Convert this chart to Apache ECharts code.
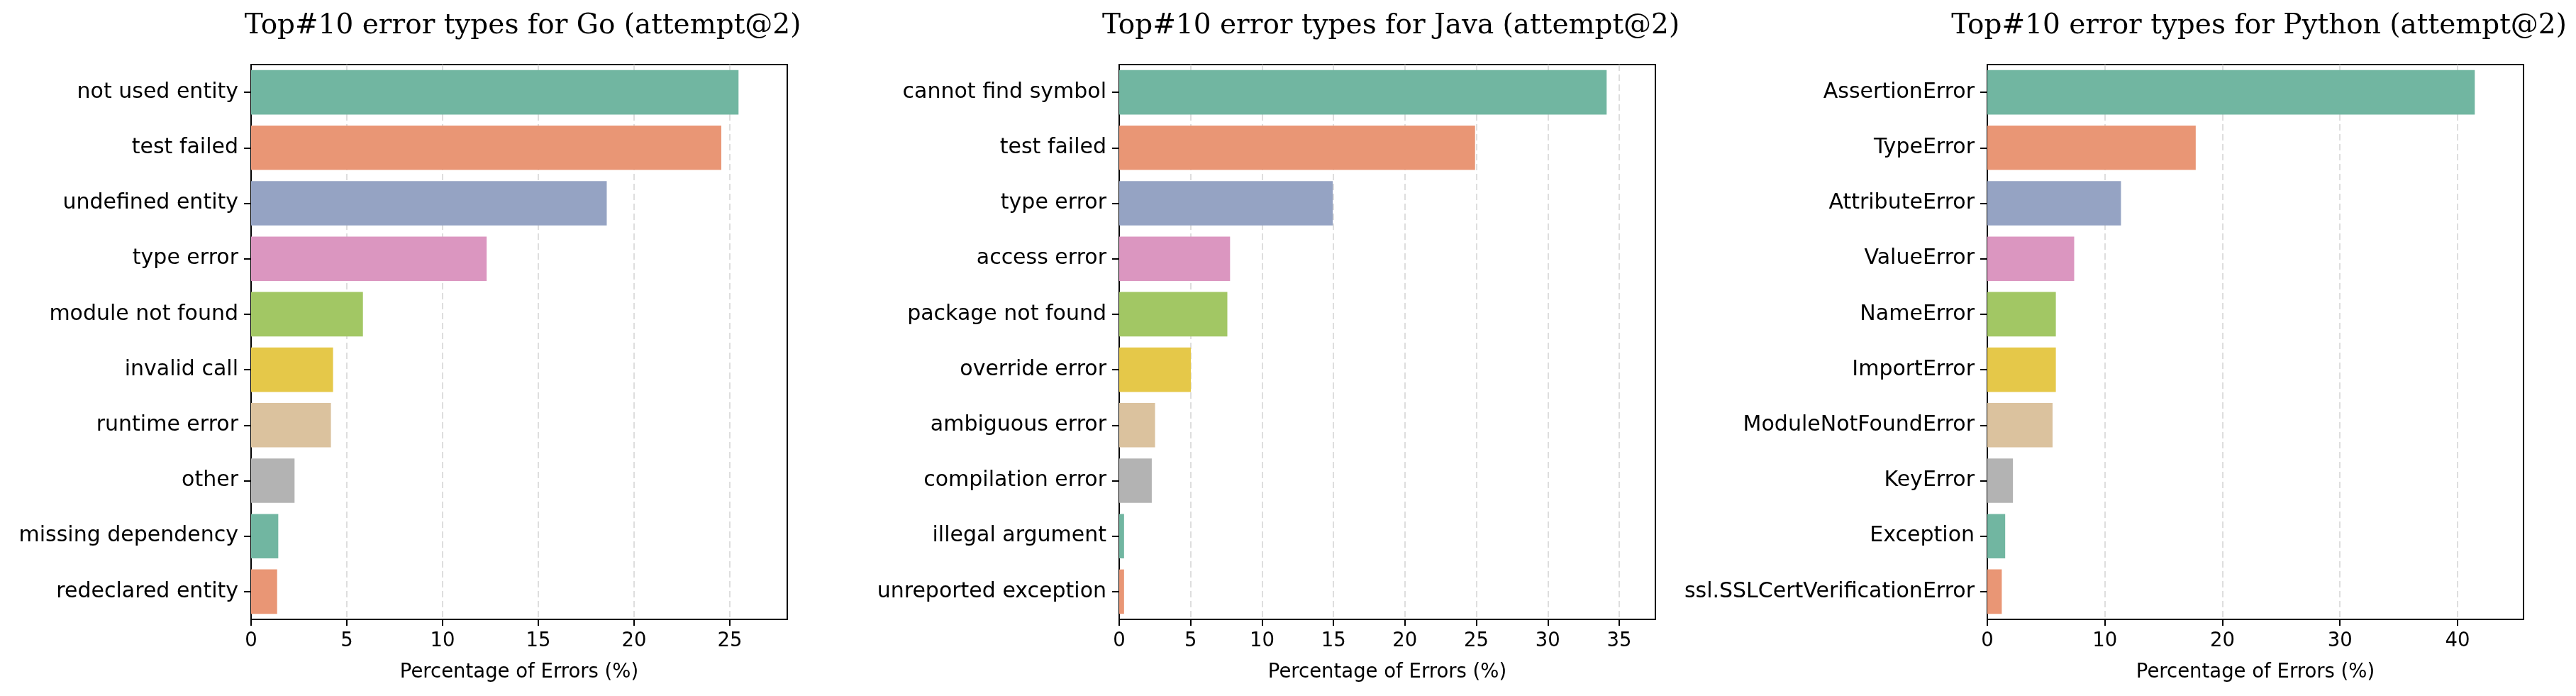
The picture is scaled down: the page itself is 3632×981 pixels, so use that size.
<!DOCTYPE html>
<html>
<head>
<meta charset="utf-8">
<script src="https://cdn.jsdelivr.net/npm/echarts@6/dist/echarts.min.js"></script>
<style>
html,body{margin:0;padding:0;background:#fff;}
#chart{width:3632px;height:981px;}
</style>
</head>
<body>
<div id="chart"></div>
<script>
const titles = [
  "Top#10 error types for Go (attempt@2)",
  "Top#10 error types for Java (attempt@2)",
  "Top#10 error types for Python (attempt@2)"
];
const goCategories = ["not used entity","test failed","undefined entity","type error","module not found","invalid call","runtime error","other","missing dependency","redeclared entity"];
const goValues = [25.45, 24.55, 18.57, 12.30, 5.84, 4.28, 4.17, 2.27, 1.42, 1.36];
const javaCategories = ["cannot find symbol","test failed","type error","access error","package not found","override error","ambiguous error","compilation error","illegal argument","unreported exception"];
const javaValues = [34.12, 24.91, 14.95, 7.76, 7.57, 5.02, 2.51, 2.28, 0.34, 0.34];
const pyCategories = ["AssertionError","TypeError","AttributeError","ValueError","NameError","ImportError","ModuleNotFoundError","KeyError","Exception","ssl.SSLCertVerificationError"];
const pyValues = [41.47, 17.73, 11.37, 7.39, 5.83, 5.83, 5.55, 2.18, 1.52, 1.23];
const xTickIntervals = [5, 5, 10];
const xAxisLabel = "Percentage of Errors (%)";
const palette = ["#71b6a1","#e99675","#95a3c3","#db96c0","#a2c764","#e5c849","#dbc29e","#b3b3b3","#71b6a1","#e99675"];

const panels = [
  {cats: goCategories, vals: goValues},
  {cats: javaCategories, vals: javaValues},
  {cats: pyCategories, vals: pyValues}
];
const gridLefts = [354, 1578, 2802];
const gridWidth = 756;
const gridTop = 91;
const gridHeight = 782;

const chart = echarts.init(document.getElementById('chart'), null, {renderer: 'canvas'});
const option = {
  backgroundColor: '#fff',
  animation: false,
  title: titles.map((t, i) => ({
    text: t,
    left: gridLefts[i] + gridWidth / 2,
    textAlign: 'center',
    top: 12,
    textStyle: {fontFamily: 'DejaVu Serif', fontSize: 39, fontWeight: 'normal', color: '#000'}
  })),
  grid: panels.map((p, i) => ({
    left: gridLefts[i], top: gridTop, width: gridWidth, height: gridHeight,
    show: true, borderColor: '#000', borderWidth: 2, backgroundColor: 'transparent'
  })),
  xAxis: panels.map((p, i) => ({
    type: 'value', gridIndex: i, min: 0, max: Math.max(...p.vals) * 1.1,
    interval: xTickIntervals[i],
    name: xAxisLabel, nameLocation: 'middle', nameGap: 61,
    nameTextStyle: {fontFamily: 'DejaVu Sans', fontSize: 27.5, color: '#000'},
    axisLine: {show: true, lineStyle: {color: '#000', width: 2}},
    axisTick: {show: true, length: 9, lineStyle: {color: '#000', width: 2}},
    axisLabel: {fontFamily: 'DejaVu Sans', fontSize: 27.5, color: '#000', margin: 17, showMaxLabel: false},
    splitLine: {show: true, showMinLine: false, showMaxLine: false, lineStyle: {color: '#d3d3d3', width: 1.5, type: [9, 5]}}
  })),
  yAxis: panels.map((p, i) => ({
    type: 'category', gridIndex: i, data: p.cats, inverse: true,
    axisLine: {show: true, lineStyle: {color: '#000', width: 2}},
    axisTick: {show: true, alignWithLabel: true, length: 10, lineStyle: {color: '#000', width: 2}},
    axisLabel: {fontFamily: 'DejaVu Sans', fontSize: 30, color: '#000', margin: 18},
    splitLine: {show: false}
  })),
  series: panels.map((p, i) => ({
    type: 'bar', xAxisIndex: i, yAxisIndex: i,
    data: p.vals.map((v, k) => ({value: v, itemStyle: {color: palette[k]}})),
    barCategoryGap: '20%'
  }))
};
chart.setOption(option);
</script>
</body>
</html>
